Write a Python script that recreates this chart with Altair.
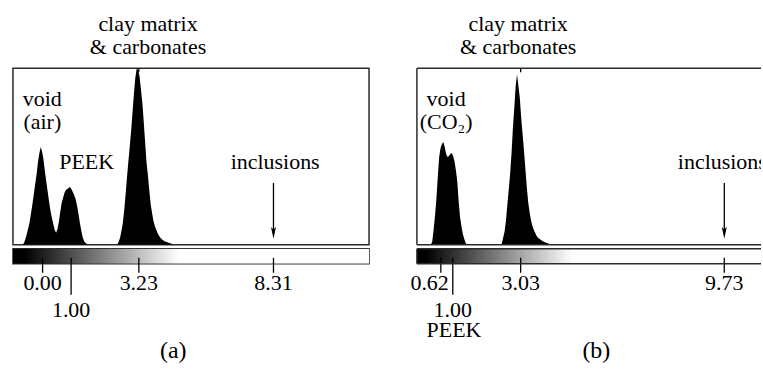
import altair as alt
import pandas as pd

FONT = "Liberation Serif"
INK = "#000000"
FRAME = "#2b2b2b"

Y_MAX = 177          # histogram box height, in count units (1 unit = 1 px)
BOX_H = 177
BAR_H = 15
WIDTH_A = 357
WIDTH_B = 345
DOMAIN_A = [0, 256]
DOMAIN_B = [0, 256 * WIDTH_B / WIDTH_A]

# ---------------- panel (a): sample scanned in air ----------------
a_low_start = 6          # gray level of first count below (void + PEEK peaks)
a_low_counts = [0, 0, 2, 6, 11, 17, 23, 32, 41, 51, 61, 71, 83, 92, 98, 93, 85,
                73, 63, 53, 43, 34, 27, 21, 15, 12, 16, 23, 33, 42, 47, 52, 55,
                56, 57, 58, 56, 53, 50, 46, 40, 32, 23, 15, 8, 4, 2, 1, 0]
a_clay_start = 74        # clay matrix & carbonates peak
a_clay_counts = [0, 0, 3, 7, 14, 22, 35, 51, 68, 84, 99, 115, 134, 152, 168, 177,
                 175, 169, 156, 143, 124, 103, 83, 70, 55, 41, 32, 24, 19, 15,
                 11.5, 9, 7, 5.5, 4.5, 3.5, 3, 2.5, 2, 1.5, 1, 0.5, 0]
a_gray_black = 8         # gray levels mapped to black / white in the colour bar
a_gray_white = 119
a_tick_labels = ["0.00", "1.00", "3.23", "8.31"]
a_tick_levels = [21.3, 41.8, 90.5, 187.3]
a_tick_rows = [0, 1, 0, 0]

# ---------------- panel (b): sample scanned in CO2 ----------------
b_low_start = 10
b_low_counts = [0, 3, 15, 29, 46, 68, 88, 97, 101, 103, 98, 91, 88, 89, 91, 92,
                89, 84, 75, 64, 44, 28, 19, 11, 6, 2, 0]
b_clay_start = 60
b_clay_counts = [0, 1, 7, 13, 24, 40, 55, 71, 91, 117, 137, 159, 171, 159, 147,
                 127, 111, 94, 76, 58, 43, 33, 25, 19, 15, 12, 9, 7, 6, 5, 4, 3,
                 2.5, 2, 1.5, 1, 0.5, 0]
b_gray_black = 6
b_gray_white = 112
b_tick_labels = ["0.62", "1.00", "3.03", "9.73"]
b_tick_levels = [17.2, 25.8, 74.6, 221.0]
b_tick_rows = [0, 1, 0, 0]


def hist_frame(segments):
    rows = []
    for start, counts in segments:
        for i, c in enumerate(counts):
            rows.append({"level": start + i, "count": c})
    return pd.DataFrame(rows)


def xenc(domain):
    return alt.X("level:Q", scale=alt.Scale(domain=domain, nice=False, zero=False),
                 axis=None)


def note(text, level, y, domain, size=22, align="center", dx=0, clip=False):
    df = pd.DataFrame({"level": [level], "text": [text]})
    return alt.Chart(df).mark_text(
        font=FONT, fontSize=size, color=INK, align=align, baseline="alphabetic",
        dx=dx, lineBreak="\n", lineHeight=23, clip=clip,
    ).encode(x=xenc(domain), y=alt.value(y), text="text:N")


def arrow(level, y_top, y_tip, domain):
    df = pd.DataFrame({"level": [level]})
    shaft = alt.Chart(df).mark_rule(color=INK, strokeWidth=1.3).encode(
        x=xenc(domain), y=alt.value(y_top), y2=alt.value(y_tip - 5))
    head = alt.Chart(df).mark_point(
        shape="M-0.42,-1L0,1L0.42,-1L0,-0.55Z", size=144, filled=True,
        color=INK, opacity=1, strokeWidth=0,
    ).encode(x=xenc(domain), y=alt.value(y_tip - 6))
    return [shaft, head]


def open_frame(width, height):
    df = pd.DataFrame({"k": [0]})
    base = alt.Chart(df).mark_rule(color=FRAME, strokeWidth=1.5)
    return [
        base.encode(x=alt.value(0), x2=alt.value(width), y=alt.value(0)),
        base.encode(x=alt.value(0), x2=alt.value(width), y=alt.value(height)),
        base.encode(x=alt.value(0), y=alt.value(0), y2=alt.value(height)),
    ]


def panel(segments, domain, width, gray_black, gray_white, tick_labels,
          tick_levels, tick_rows, void_text, void_level, peek_level,
          incl_level, clay_text_level, caption, caption_level, closed,
          peek_under=None):
    hdf = hist_frame(segments)
    area = alt.Chart(hdf).mark_area(color=INK, clip=True).encode(
        x=xenc(domain),
        y=alt.Y("count:Q", scale=alt.Scale(domain=[0, Y_MAX]), axis=None),
    )
    ticks = pd.DataFrame({"level": tick_levels, "label": tick_labels,
                          "row": tick_rows})
    top_tick = alt.Chart(ticks.iloc[[2]]).mark_rule(color=INK, strokeWidth=1.3).encode(
        x=xenc(domain), y=alt.value(0), y2=alt.value(4))

    hist_layers = [area, top_tick,
                   note(void_text, void_level, 38, domain),
                   note("inclusions", incl_level, 101, domain, clip=not closed),
                   note("clay matrix\n& carbonates", clay_text_level, -37, domain)]
    if peek_level is not None:
        hist_layers.append(note("PEEK", peek_level, 101, domain))
    hist_layers += arrow(tick_levels[3], 115, 171, domain)
    if not closed:
        hist_layers += open_frame(width, BOX_H)
    view = (alt.ViewBackground(stroke=FRAME, strokeWidth=1.5) if closed
            else alt.ViewBackground(stroke="transparent"))
    hist = alt.layer(*hist_layers).properties(width=width, height=BOX_H, view=view)

    # grey-level colour bar: black up to gray_black, white from gray_white on
    top = domain[1]
    bdf = pd.DataFrame({"level": [0.0], "next": [top]})
    ramp = alt.Gradient(
        gradient="linear", x1=0, x2=1, y1=0, y2=0,
        stops=[alt.GradientStop(offset=0, color="#000000"),
               alt.GradientStop(offset=gray_black / top, color="#000000"),
               alt.GradientStop(offset=gray_white / top, color="#ffffff"),
               alt.GradientStop(offset=1, color="#ffffff")],
    )
    bar = alt.Chart(bdf).mark_rect(clip=True, color=ramp).encode(
        x=xenc(domain), x2="next:Q", y=alt.value(0), y2=alt.value(BAR_H),
    )
    tick_base = alt.Chart(ticks)
    short = tick_base.transform_filter("datum.row == 0").mark_rule(
        color=INK, strokeWidth=1.3).encode(x=xenc(domain), y=alt.value(9),
                                           y2=alt.value(24))
    long = tick_base.transform_filter("datum.row == 1").mark_rule(
        color=INK, strokeWidth=1.3).encode(x=xenc(domain), y=alt.value(9),
                                           y2=alt.value(46))
    txt = dict(font=FONT, fontSize=22, color=INK, baseline="alphabetic")
    row1 = tick_base.transform_filter("datum.row == 1").mark_text(**txt).encode(
        x=xenc(domain), y=alt.value(68), text="label:N")
    bar_layers = [bar, short, long, row1]
    if closed:
        bar_layers.append(tick_base.transform_filter("datum.row == 0").mark_text(
            **txt).encode(x=xenc(domain), y=alt.value(41), text="label:N"))
    else:
        # the first label sits left of its tick
        bar_layers.append(tick_base.transform_filter(
            "datum.row == 0 && datum.level > 20").mark_text(**txt).encode(
            x=xenc(domain), y=alt.value(41), text="label:N"))
        bar_layers.append(tick_base.transform_filter(
            "datum.row == 0 && datum.level < 20").mark_text(
            align="right", dx=8, **txt).encode(
            x=xenc(domain), y=alt.value(41), text="label:N"))
        bar_layers += open_frame(width, BAR_H)
    if peek_under is not None:
        bar_layers.append(note("PEEK", peek_under, 88, domain))
    bar_layers.append(note(caption, caption_level, 109, domain, size=24))
    bar_view = (alt.ViewBackground(stroke=FRAME, strokeWidth=1.5) if closed
                else alt.ViewBackground(stroke="transparent"))
    colorbar = alt.layer(*bar_layers).properties(width=width, height=BAR_H,
                                                 view=bar_view)
    return hist, colorbar


hist_a, bar_a = panel([(a_low_start, a_low_counts), (a_clay_start, a_clay_counts)],
                      DOMAIN_A, WIDTH_A, a_gray_black, a_gray_white, a_tick_labels,
                      a_tick_levels, a_tick_rows, "void\n(air)", 21.1, 53.0, 188.5,
                      97.1, "(a)", 115.2, True)
hist_b, bar_b = panel([(b_low_start, b_low_counts), (b_clay_start, b_clay_counts)],
                      DOMAIN_B, WIDTH_B, b_gray_black, b_gray_white, b_tick_labels,
                      b_tick_levels, b_tick_rows, "void\n(CO₂)", 21.0, None, 219.6,
                      72.8, "(b)", 129.0, False, peek_under=26.7)

chart = alt.concat(
    hist_a, hist_b, bar_a, bar_b, columns=2, bounds="flush",
    spacing={"row": 4, "column": 48},
).properties(
    padding={"left": 12, "top": 12, "right": 0, "bottom": 0},
    background="white",
).configure_view(stroke="transparent")

chart.save("out.html", embed_options={"renderer": "svg", "actions": False})
